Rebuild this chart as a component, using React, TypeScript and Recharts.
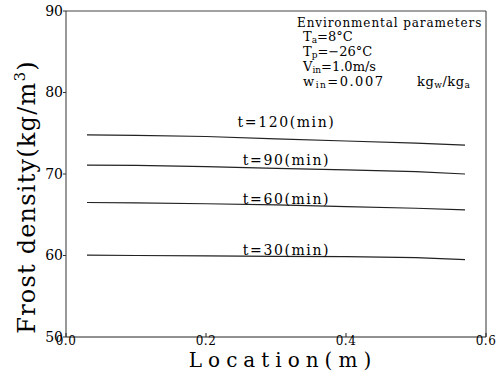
import React from 'react';
import { LineChart, Line, XAxis, YAxis, ReferenceLine, ReferenceDot } from 'recharts';

// location along the plate (m)
const locations = [0.03, 0.1, 0.2, 0.3, 0.4, 0.5, 0.57];

// frost density (kg/m3) for each time step
const density30 = [60.05, 60.0, 59.95, 59.9, 59.85, 59.75, 59.5];
const density60 = [66.5, 66.45, 66.35, 66.2, 66.0, 65.8, 65.6];
const density90 = [71.1, 71.05, 70.9, 70.7, 70.5, 70.3, 70.0];
const density120 = [74.8, 74.75, 74.6, 74.3, 74.05, 73.8, 73.55];

const seriesNames = ['t=30(min)', 't=60(min)', 't=90(min)', 't=120(min)'];
// where each series label sits (x in m, y in kg/m3)
const labelX = 0.315;
const labelY = [60.7, 66.9, 71.7, 76.4];

const xTicks = [0, 0.2, 0.4, 0.6];
const yTicks = [50, 60, 70, 80, 90];

const data = locations.map((x, i) => ({
  x,
  s30: density30[i],
  s60: density60[i],
  s90: density90[i],
  s120: density120[i],
}));
const keys = ['s30', 's60', 's90', 's120'];

const serif = '"DejaVu Serif", serif';

// x ticks point inward, labels sit under the axis
const XTick = (props: any) => {
  const { x, y, payload } = props;
  return (
    <g>
      <line x1={x} x2={x} y1={y} y2={y - 4} stroke="#222" />
      <text x={x} y={y + 8} textAnchor="middle" fontFamily={serif} fontSize={12} letterSpacing={0.5} fill="#000">
        {Number(payload.value).toFixed(1)}
      </text>
    </g>
  );
};

const ParamsBox = () => (
  <g fontFamily={serif} fill="#000">
    <text x={297} y={27} fontSize={12} letterSpacing={0.9}>Environmental parameters</text>
    <text x={303} y={41} fontSize={13}>
      T<tspan fontSize={9} dy={2}>a</tspan><tspan dy={-2}>=8°C</tspan>
    </text>
    <text x={303} y={56} fontSize={13}>
      T<tspan fontSize={9} dy={2}>p</tspan><tspan dy={-2}>=−26°C</tspan>
    </text>
    <text x={303} y={71} fontSize={13}>
      V<tspan fontSize={9} dy={2}>in</tspan><tspan dy={-2}>=1.0m/s</tspan>
    </text>
    <text x={303} y={86} fontSize={13} letterSpacing={1.5}>
      w<tspan fontSize={9} dy={2}>in</tspan><tspan dy={-2}>=0.007</tspan>
    </text>
    <text x={417} y={86} fontSize={13} letterSpacing={0.5}>
      kg<tspan fontSize={9} dy={2}>w</tspan><tspan dy={-2}>/kg</tspan>
      <tspan fontSize={9} dy={2}>a</tspan>
    </text>
  </g>
);

const AxisTitles = () => (
  <g fontFamily={serif} fill="#000">
    <text x={283} y={367} textAnchor="middle" fontSize={20} letterSpacing={6}>Location(m)</text>
    <text x={35} y={197} textAnchor="middle" fontSize={24} letterSpacing={1.2} transform="rotate(-90 35 197)">
      Frost density(kg/m<tspan fontSize={15} dy={-10}>3</tspan><tspan dy={10}>)</tspan>
    </text>
  </g>
);

export default function App() {
  return (
    <div style={{ position: 'absolute', left: 0, top: 0, background: '#fff' }}>
      <LineChart
        width={497}
        height={372}
        data={data}
        margin={{ top: 11, right: 11, bottom: 5, left: 0 }}
      >
        <XAxis
          type="number"
          dataKey="x"
          domain={[0, 0.6]}
          ticks={xTicks}
          height={30}
          tickSize={0}
          tickMargin={0}
          tickLine={false}
          stroke="#222"
          tick={<XTick />}
        />
        <YAxis
          type="number"
          domain={[50, 90]}
          ticks={yTicks}
          width={66}
          tickSize={3}
          tickMargin={0}
          stroke="#333"
          tick={{ fill: '#000', fontFamily: serif, fontSize: 14 }}
        />
        <ReferenceLine y={90} stroke="#444" />
        <ReferenceLine x={0.6} stroke="#333" />
        {keys.map((k) => (
          <Line
            key={k}
            type="linear"
            dataKey={k}
            stroke="#222"
            strokeWidth={1.2}
            dot={false}
            isAnimationActive={false}
          />
        ))}
        {seriesNames.map((name, i) => (
          <ReferenceDot
            key={name}
            x={labelX}
            y={labelY[i]}
            r={0}
            fill="none"
            stroke="none"
            label={{ value: name, position: 'center', fill: '#000', fontFamily: serif, fontSize: 14, letterSpacing: 1.6 }}
          />
        ))}
        <ParamsBox />
        <AxisTitles />
      </LineChart>
    </div>
  );
}
